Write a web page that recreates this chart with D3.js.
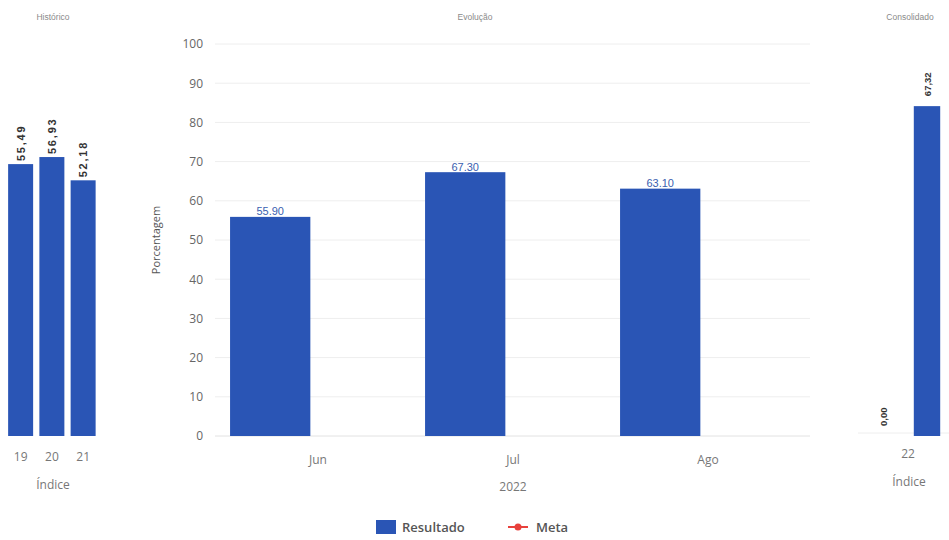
<!DOCTYPE html>
<html><head><meta charset="utf-8">
<script src="https://cdn.jsdelivr.net/npm/d3@7"></script>
<style>
html,body{margin:0;padding:0;background:#fff;}
svg{display:block;}
</style></head>
<body>
<svg id="chart" width="949" height="540"></svg>
<script>
// ---- data ----
const historicoCategories = ["19", "20", "21"];
const historicoValues = [55.49, 56.93, 52.18];

const evolucaoCategories = ["Jun", "Jul", "Ago"];
const evolucaoSeries = ["Resultado", "Meta"];
const evolucaoResultado = [55.90, 67.30, 63.10];
const evolucaoTicks = [0, 10, 20, 30, 40, 50, 60, 70, 80, 90, 100];
const evolucaoYear = "2022";

const consolidadoCategories = ["22"];
const consolidadoSeries = ["Meta", "Resultado"];
const consolidadoValues = [0.00, 67.32];

const legendItems = ["Resultado", "Meta"];

// ---- setup ----
const svg = d3.select("#chart");
const blue = "#2a55b5";
const red = "#e8413c";
const fmtComma = v => d3.format(".2f")(v).replace(".", ",");
const fmtDot = d3.format(".2f");
const plotTop = 44, plotBottom = 436;

// ---------- Histórico (left) ----------
const hY = d3.scaleLinear().domain([0, 80]).range([plotBottom, plotTop]);
const hX = d3.scaleBand().domain(historicoCategories).range([5, 98.75]).paddingInner(0.2).paddingOuter(0.1);
const gH = svg.append("g");
gH.append("text").attr("x", 53).attr("y", 20).attr("text-anchor", "middle")
  .attr("font-family", "Liberation Sans, Arial, sans-serif").attr("font-size", 8.5).attr("fill", "#8a8a8a").text("Histórico");
gH.selectAll("rect").data(historicoValues).join("rect")
  .attr("x", (d, i) => hX(historicoCategories[i]))
  .attr("width", hX.bandwidth())
  .attr("y", d => hY(d))
  .attr("height", d => hY(0) - hY(d))
  .attr("fill", blue);
gH.selectAll("text.val").data(historicoValues).join("text").attr("class", "val")
  .attr("transform", (d, i) => `translate(${hX(historicoCategories[i]) + hX.bandwidth() / 2 + 4},${hY(d) - 3}) rotate(-90)`)
  .attr("font-family", "Liberation Sans, Arial, sans-serif").attr("font-weight", "bold")
  .attr("font-size", 11).attr("letter-spacing", 1.8).attr("fill", "#333").text(d => fmtComma(d));
const hAxis = gH.append("g").attr("transform", `translate(0,${plotBottom})`)
  .call(d3.axisBottom(hX).tickSize(0).tickPadding(16));
hAxis.select(".domain").remove();
hAxis.selectAll("text").attr("font-family", "Open Sans, sans-serif").attr("font-size", 12).attr("fill", "#777");
gH.append("text").attr("x", 53).attr("y", 489).attr("text-anchor", "middle")
  .attr("font-family", "Open Sans, sans-serif").attr("font-size", 12).attr("fill", "#777").text("Índice");

// ---------- Evolução (middle) ----------
const eY = d3.scaleLinear().domain([0, 100]).range([plotBottom, plotTop]);
const eX = d3.scaleBand().domain(evolucaoCategories).range([220.5, 805.5]);
const eX1 = d3.scaleBand().domain(evolucaoSeries).range([0, eX.bandwidth()]).paddingInner(0.16).paddingOuter(0.1);
const gE = svg.append("g");
gE.append("text").attr("x", 475).attr("y", 20).attr("text-anchor", "middle")
  .attr("font-family", "Liberation Sans, Arial, sans-serif").attr("font-size", 8.5).attr("fill", "#8a8a8a").text("Evolução");
// gridlines
gE.append("g").selectAll("line").data(evolucaoTicks).join("line")
  .attr("x1", 215).attr("x2", 810)
  .attr("y1", d => eY(d)).attr("y2", d => eY(d))
  .attr("stroke", d => d === 0 ? "#e2e2e2" : "#eeeeee").attr("stroke-width", 1);
// y axis
const yAxis = gE.append("g").attr("transform", "translate(203,0)")
  .call(d3.axisLeft(eY).tickValues(evolucaoTicks).tickSize(0).tickPadding(0));
yAxis.select(".domain").remove();
yAxis.selectAll("text").attr("font-family", "Open Sans, sans-serif").attr("font-size", 12).attr("fill", "#666");
gE.append("text").attr("transform", "translate(160,240) rotate(-90)").attr("text-anchor", "middle")
  .attr("font-family", "Open Sans, sans-serif").attr("font-size", 11).attr("fill", "#555").text("Porcentagem");
// bars
gE.selectAll("rect").data(evolucaoResultado).join("rect")
  .attr("x", (d, i) => eX(evolucaoCategories[i]) + eX1("Resultado"))
  .attr("width", eX1.bandwidth())
  .attr("y", d => eY(d))
  .attr("height", d => eY(0) - eY(d))
  .attr("fill", blue);
gE.selectAll("text.val").data(evolucaoResultado).join("text").attr("class", "val")
  .attr("x", (d, i) => eX(evolucaoCategories[i]) + eX1("Resultado") + eX1.bandwidth() / 2)
  .attr("y", d => eY(d) - 1.5)
  .attr("text-anchor", "middle")
  .attr("font-family", "Liberation Sans, Arial, sans-serif").attr("font-size", 11).attr("fill", "#3a5fb0")
  .text(d => fmtDot(d));
// x axis
const xAxis = gE.append("g").attr("transform", `translate(0,${plotBottom})`)
  .call(d3.axisBottom(eX).tickSize(0).tickPadding(19));
xAxis.select(".domain").remove();
xAxis.selectAll("text").attr("font-family", "Open Sans, sans-serif").attr("font-size", 12).attr("fill", "#777");
gE.append("text").attr("x", 513).attr("y", 491).attr("text-anchor", "middle")
  .attr("font-family", "Open Sans, sans-serif").attr("font-size", 12).attr("fill", "#777").text(evolucaoYear);

// ---------- Consolidado (right) ----------
const cY = d3.scaleLinear().domain([0, 80]).range([plotBottom, plotTop]);
const cX = d3.scaleBand().domain(consolidadoCategories).range([861, 949]);
const cX1 = d3.scaleBand().domain(consolidadoSeries).range([0, cX.bandwidth()]).paddingInner(0.4).paddingOuter(0.2);
const gC = svg.append("g");
gC.append("text").attr("x", 910).attr("y", 20).attr("text-anchor", "middle")
  .attr("font-family", "Liberation Sans, Arial, sans-serif").attr("font-size", 8.5).attr("fill", "#8a8a8a").text("Consolidado");
gC.append("line").attr("x1", 858).attr("x2", 949).attr("y1", cY(0) - 3).attr("y2", cY(0) - 3)
  .attr("stroke", "#eeeeee");
gC.selectAll("rect").data(consolidadoValues).join("rect")
  .attr("x", (d, i) => cX(consolidadoCategories[0]) + cX1(consolidadoSeries[i]))
  .attr("width", cX1.bandwidth())
  .attr("y", d => cY(d))
  .attr("height", d => cY(0) - cY(d))
  .attr("fill", blue);
gC.selectAll("text.val").data(consolidadoValues).join("text").attr("class", "val")
  .attr("transform", (d, i) => `translate(${cX(consolidadoCategories[0]) + cX1(consolidadoSeries[i]) + cX1.bandwidth() / 2 + 4},${cY(d) - 10}) rotate(-90)`)
  .attr("font-family", "Liberation Sans, Arial, sans-serif").attr("font-weight", "bold")
  .attr("font-size", 9.5).attr("fill", "#333").text(d => fmtComma(d));
const cAxis = gC.append("g").attr("transform", `translate(3,${plotBottom})`)
  .call(d3.axisBottom(cX).tickSize(0).tickPadding(13));
cAxis.select(".domain").remove();
cAxis.selectAll("text").attr("font-family", "Open Sans, sans-serif").attr("font-size", 12).attr("fill", "#777");
gC.append("text").attr("x", 909).attr("y", 486).attr("text-anchor", "middle")
  .attr("font-family", "Open Sans, sans-serif").attr("font-size", 12).attr("fill", "#777").text("Índice");

// ---------- Legend ----------
const gL = svg.append("g");
gL.append("rect").attr("x", 376).attr("y", 520).attr("width", 20).attr("height", 14).attr("fill", blue);
gL.append("text").attr("x", 402).attr("y", 532).attr("font-family", "Open Sans, sans-serif")
  .attr("font-weight", 600).attr("font-size", 13).attr("fill", "#555").text(legendItems[0]);
gL.append("line").attr("x1", 508).attr("x2", 528).attr("y1", 527).attr("y2", 527).attr("stroke", red).attr("stroke-width", 2);
gL.append("circle").attr("cx", 518).attr("cy", 527).attr("r", 3.5).attr("fill", red);
gL.append("text").attr("x", 536).attr("y", 532).attr("font-family", "Open Sans, sans-serif")
  .attr("font-weight", 600).attr("font-size", 13).attr("fill", "#555").text(legendItems[1]);
</script>
</body></html>
